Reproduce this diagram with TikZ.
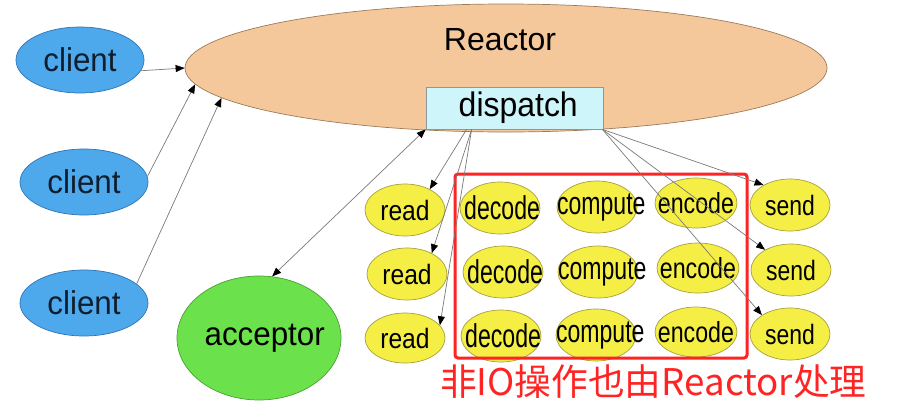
\documentclass[tikz,border=0pt]{standalone}
\usepackage{fontspec}
\usepackage{graphicx}
\setmainfont{Liberation Sans}
\newfontfamily\cjk{Noto Sans CJK SC}
\usetikzlibrary{shapes.geometric,arrows.meta}
\definecolor{reactorfill}{HTML}{F5C89B}
\definecolor{reactordraw}{HTML}{9C7B5A}
\definecolor{dispfill}{HTML}{CDF5FA}
\definecolor{dispdraw}{HTML}{8A9A9A}
\definecolor{cliblue}{HTML}{4EA9EC}
\definecolor{clidraw}{HTML}{2E74B5}
\definecolor{clitext}{HTML}{0F1E2E}
\definecolor{accfill}{HTML}{6BE24B}
\definecolor{accdraw}{HTML}{4A9F35}
\definecolor{yelfill}{HTML}{F4EE45}
\definecolor{yeldraw}{HTML}{A8A040}
\definecolor{redc}{HTML}{FF2323}
\definecolor{linegray}{HTML}{7A7A7A}
\newcommand{\sx}[2]{\makebox[0pt]{\scalebox{#1}[1]{#2}}}
\tikzset{
  ell/.style={ellipse, inner sep=0pt, line width=0.7pt},
  cli/.style={ell, fill=cliblue, draw=clidraw, minimum width=128pt, minimum height=66pt, text=clitext, font=\fontsize{33}{36}\selectfont},
  yel/.style={ell, fill=yelfill, draw=yeldraw, minimum width=80pt, minimum height=52pt, text=black},
  rd/.style={yel, font=\fontsize{28}{32}\selectfont},
  dc/.style={yel, font=\fontsize{33}{36}\selectfont},
  cp/.style={yel, font=\fontsize{32}{36}\selectfont},
  ec/.style={yel, minimum width=82pt, minimum height=50pt, font=\fontsize{29}{33}\selectfont},
  sd/.style={yel, font=\fontsize{28}{32}\selectfont},
  arr/.style={draw=linegray, line width=0.7pt, -{Triangle[length=9pt,width=7pt,color=black]}},
  arrb/.style={draw=linegray, line width=0.7pt, {Triangle[length=9pt,width=7pt,color=black]}-{Triangle[length=9pt,width=7pt,color=black]}},
}
\begin{document}
\begin{tikzpicture}[x=1pt,y=-1pt]
\fill[white] (0,0) rectangle (898,413);
\useasboundingbox (0,0) rectangle (898,413);
% Reactor
\node[ell, fill=reactorfill, draw=reactordraw, minimum width=642pt, minimum height=128pt] (Reactor) at (506,68) {};
\node[inner sep=0pt, font=\fontsize{32}{36}\selectfont, text=black] (rtitle) at (500,40) {\sx{1.0}{Reactor}};
\node[rectangle, inner sep=0pt, fill=dispfill, draw=dispdraw, line width=0.7pt, minimum width=177pt, minimum height=42pt, font=\fontsize{34}{38}\selectfont] (dispatch) at (514.5,108) {\sx{0.94}{\hspace{8pt}dispatch}};
% clients
\node[cli] (c1) at (80,60) {\sx{0.95}{client}};
\node[cli] (c2) at (84,182) {\sx{0.95}{client}};
\node[cli] (c3) at (84,303) {\sx{0.95}{client}};
% acceptor
\node[ell, fill=accfill, draw=accdraw, minimum width=164pt, minimum height=124pt, font=\fontsize{33}{36}\selectfont, text=black] (acc) at (259,338) {\sx{0.95}{\hspace{12pt}acceptor}};
% handlers
\node[rd] (read1) at (405,210) {\sx{0.88}{read}};
\node[rd] (read2) at (407,274) {\sx{0.88}{read}};
\node[rd, minimum height=50pt] (read3) at (405,338) {\sx{0.88}{read}};
\node[dc] (dec1) at (500,208) {\sx{0.7}{\hspace{6pt}decode}};
\node[dc] (dec2) at (503,272) {\sx{0.7}{\hspace{6pt}decode}};
\node[dc] (dec3) at (501,336) {\sx{0.7}{\hspace{6pt}decode}};
\node[cp] (com1) at (597,207) {\sx{0.72}{\hspace{12pt}compute}};
\node[cp] (com2) at (598,272) {\sx{0.72}{\hspace{12pt}compute}};
\node[cp] (com3) at (596,335) {\sx{0.72}{\hspace{12pt}compute}};
\node[ec] (enc1) at (696,203) {\sx{0.8}{encode}};
\node[ec] (enc2) at (698,268) {\sx{0.8}{encode}};
\node[ec] (enc3) at (696,332) {\sx{0.8}{encode}};
\node[sd] (snd1) at (790,205) {\sx{0.82}{send}};
\node[sd] (snd2) at (791,270) {\sx{0.82}{send}};
\node[sd] (snd3) at (790,334) {\sx{0.82}{send}};
% red box and note
\node[draw=redc, line width=3pt, rounded corners=3pt, minimum width=292pt, minimum height=184pt, inner sep=0pt] (box) at (601,266) {};
\node[anchor=west, inner sep=0pt, text=redc, font=\cjk\fontsize{36.7}{42}\selectfont] (note) at (440,382) {非IO操作也由Reactor处理};
% connectors
\draw[arr] (c1.-10) -- (Reactor.west);
\draw[arr] (c2.5) -- (Reactor.183.5);
\draw[arr] (c3.20) -- (Reactor.186);
\draw[arrb] (acc.78) -- (dispatch.south west);
\draw[arr] ([xshift=41pt]dispatch.south west) -- (read1.40);
\draw[arr] ([xshift=46pt]dispatch.south west) -- (read2.40);
\draw[arr] ([xshift=46pt]dispatch.south west) -- (read3.20);
\draw[arr] ([xshift=-1pt]dispatch.south east) -- (snd1.143);
\draw[arr] ([xshift=-1pt]dispatch.south east) -- (snd2.142);
\draw[arr] ([xshift=-1pt]dispatch.south east) -- (snd3.146);
\end{tikzpicture}
\end{document}
